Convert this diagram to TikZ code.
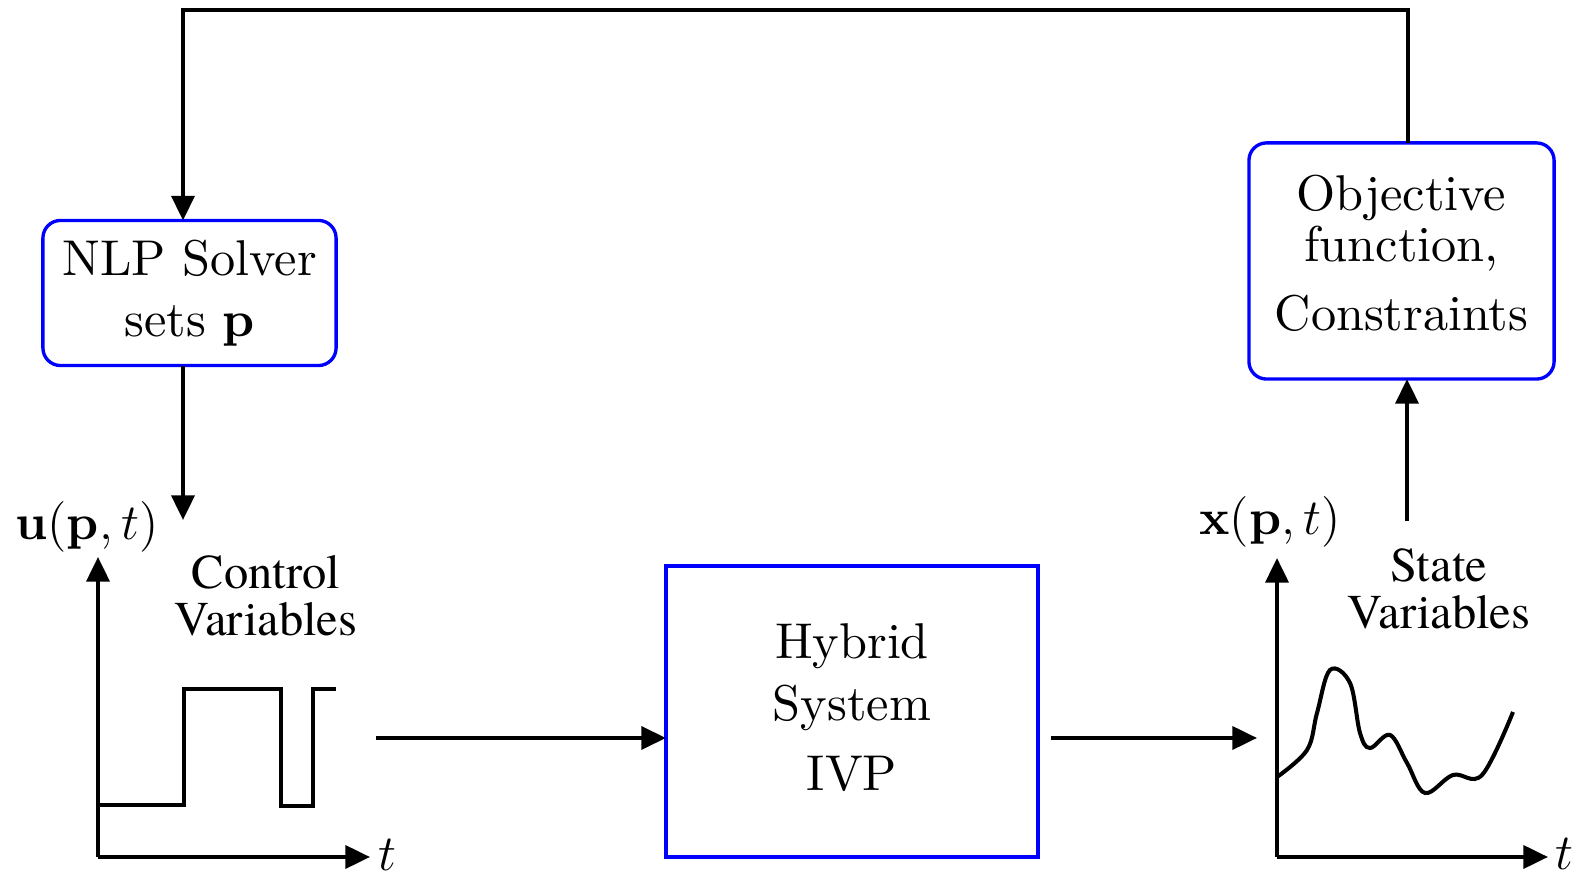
\documentclass[tikz,border=0pt]{standalone}
\usepackage{fontspec}
\setmainfont{lmroman10-regular}[Extension=.otf, BoldFont=lmroman10-bold,
  ItalicFont=lmroman10-italic, BoldItalicFont=lmroman10-bolditalic]
\newfontfamily\timesfont{texgyretermes-regular}[Extension=.otf, Ligatures=TeX]
\usetikzlibrary{arrows.meta}

\tikzset{
  blk/.style={draw=blue, line width=0.95pt, align=center, inner sep=0pt,
    font=\fontsize{14.3}{17.5}\selectfont},
  rblk/.style={blk, rounded corners=5pt},
  flow/.style={line width=1.15pt, -{Triangle[length=7pt,width=6.5pt]}},
  sig/.style={line width=1.15pt},
  varlbl/.style={align=center, font=\fontsize{13.8}{13.4}\timesfont},
  mathlbl/.style={font=\fontsize{14.3}{17}\selectfont},
}

\begin{document}
\begin{tikzpicture}[x=0.01cm, y=-0.01cm, inner sep=0pt, outer sep=0pt]
  \useasboundingbox (0,0) rectangle (1585,874);
  % 
  \node[rblk, minimum width=2.93cm, minimum height=1.45cm] (nlp_box) at (189.5,293)
    {NLP Solver\\sets $\mathbf{p}$};
  \node[rblk, minimum width=3.05cm, minimum height=2.36cm, text depth=4.5pt] (obj_box)
    at (1401.5,261) {Objective\\[-3.1pt]function,\\[2.3pt]Constraints};
  \node[blk, minimum width=3.72cm, minimum height=2.91cm, text depth=2.3pt] (hyb_box)
    at (852,711.5) {Hybrid\\System\\[2.5pt]IVP};

  \coordinate (fb_r) at (1408,10);
  \coordinate (fb_l) at (183,10);
  \coordinate (u_in) at (183,520);
  \coordinate (u_o) at (98,857);
  \coordinate (u_y) at (98,557);
  \coordinate (u_t) at (370,857);
  \coordinate (w_out) at (376,738);
  \coordinate (h_out) at (1051,738);
  \coordinate (x_in) at (1257,738);
  \coordinate (x_o) at (1277,857);
  \coordinate (x_y) at (1277,558);
  \coordinate (x_t) at (1548,857);
  \coordinate (x_out) at (1407,521);

  % feedback loop
  \draw[flow] (fb_r |- obj_box.north) -- (fb_r) -- (fb_l) -- (fb_l |- nlp_box.north);
  \draw[flow] (u_in |- nlp_box.south) -- (u_in);
  \draw[flow] (w_out) -- (w_out -| hyb_box.west);
  \draw[flow] (h_out) -- (x_in);
  \draw[flow] (x_out) -- (x_out |- obj_box.south);

  % control variables
  \draw[flow] (u_o) -- (u_y);
  \draw[flow] (u_o) -- (u_t);
  \node[mathlbl, anchor=base] (u_lbl) at (87,540) {$\mathbf{u}(\mathbf{p},t)$};
  \node[mathlbl, anchor=base west] (u_tl) at (378,871) {$t$};
  \node[varlbl] (ctrl_lbl) at (266,596) {Control\\Variables};
  \draw[sig] (98,805) -- (184,805) -- (184,689) -- (281,689) -- (281,806)
    -- (313,806) -- (313,689) -- (336,689);

  % state variables
  \draw[flow] (x_o) -- (x_y);
  \draw[flow] (x_o) -- (x_t);
  \node[mathlbl, anchor=base] (x_lbl) at (1270,535) {$\mathbf{x}(\mathbf{p},t)$};
  \node[mathlbl, anchor=base west] (x_tl) at (1555,870) {$t$};
  \node[varlbl] (state_lbl) at (1439,589) {State\\Variables};
  \draw[sig] plot[smooth, tension=0.6] coordinates {(1277,777) (1307,750) (1317,713)
    (1330,670) (1350,683) (1360,733) (1370,748) (1390,735) (1407,763) (1425,793)
    (1453,775) (1482,775) (1513,712)};
\end{tikzpicture}
\end{document}
